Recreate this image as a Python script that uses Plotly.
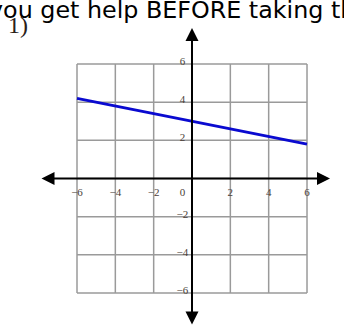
import plotly.graph_objects as go

# graph data
ticks = [-6, -4, -2, 0, 2, 4, 6]
x_labels = ["\u22126", "\u22124", "\u22122", "0", "2", "4", "6"]
y_ticks = [6, 4, 2, -2, -4, -6]
y_labels = ["6", "4", "2", "\u22122", "\u22124", "\u22126"]
line_x = [-6, 6]
line_y = [4.2, 1.8]

header = "you get help BEFORE taking th"
problem = "1)"


def main():
    fig = go.Figure()

    # grid, one trace with gaps
    gx, gy = [], []
    for t in ticks:
        gx += [t, t, None, ticks[0], ticks[-1], None]
        gy += [ticks[0], ticks[-1], None, t, t, None]
    fig.add_trace(go.Scatter(x=gx, y=gy, mode="lines",
                             line=dict(color="#9a9a9a", width=1.5),
                             hoverinfo="skip", showlegend=False))

    # the graphed line
    fig.add_trace(go.Scatter(x=line_x, y=line_y, mode="lines",
                             line=dict(color="#0a0ad0", width=3),
                             showlegend=False))

    # tick labels
    lab_font = dict(family="Liberation Serif", size=11, color="#4a4038")
    xl = [t if t != 0 else -0.5 for t in ticks]
    fig.add_trace(go.Scatter(x=xl, y=[-0.75] * len(ticks), mode="text",
                             text=x_labels, textfont=lab_font,
                             showlegend=False, hoverinfo="skip"))
    fig.add_trace(go.Scatter(x=[-0.5] * len(y_ticks), y=[v + 0.1 for v in y_ticks], mode="text",
                             text=y_labels, textfont=lab_font,
                             showlegend=False, hoverinfo="skip"))

    # axes with arrows at both ends
    arrow = dict(text="", showarrow=True, arrowside="end+start", arrowhead=2,
                 arrowsize=1.3, arrowwidth=2, arrowcolor="black",
                 axref="x", ayref="y", xref="x", yref="y", standoff=0, startstandoff=0)
    fig.add_annotation(x=7.2, y=0, ax=-7.93, ay=0, **arrow)
    fig.add_annotation(x=0, y=7.89, ax=0, ay=-7.73, **arrow)

    fig.add_annotation(text=header, xref="paper", yref="paper", x=0, y=1,
                       xanchor="left", yanchor="middle", xshift=-13, yshift=-10,
                       showarrow=False,
                       font=dict(family="DejaVu Sans", size=23.8, color="black"))
    fig.add_annotation(text=problem, xref="paper", yref="paper", x=0, y=1,
                       xanchor="left", yanchor="middle", xshift=6, yshift=-25,
                       showarrow=False,
                       font=dict(family="Liberation Serif", size=24, color="#2a2018"))

    fig.update_xaxes(range=[-10.017, 7.930], visible=False, fixedrange=True)
    fig.update_yaxes(range=[-7.782, 9.354], visible=False, fixedrange=True)
    fig.update_layout(width=344, height=327, margin=dict(l=0, r=0, t=0, b=0),
                      plot_bgcolor="white", paper_bgcolor="white")
    fig.write_html("out.html", config={"displayModeBar": False},
                   post_script="document.body.style.margin='0';")


if __name__ == "__main__":
    main()
